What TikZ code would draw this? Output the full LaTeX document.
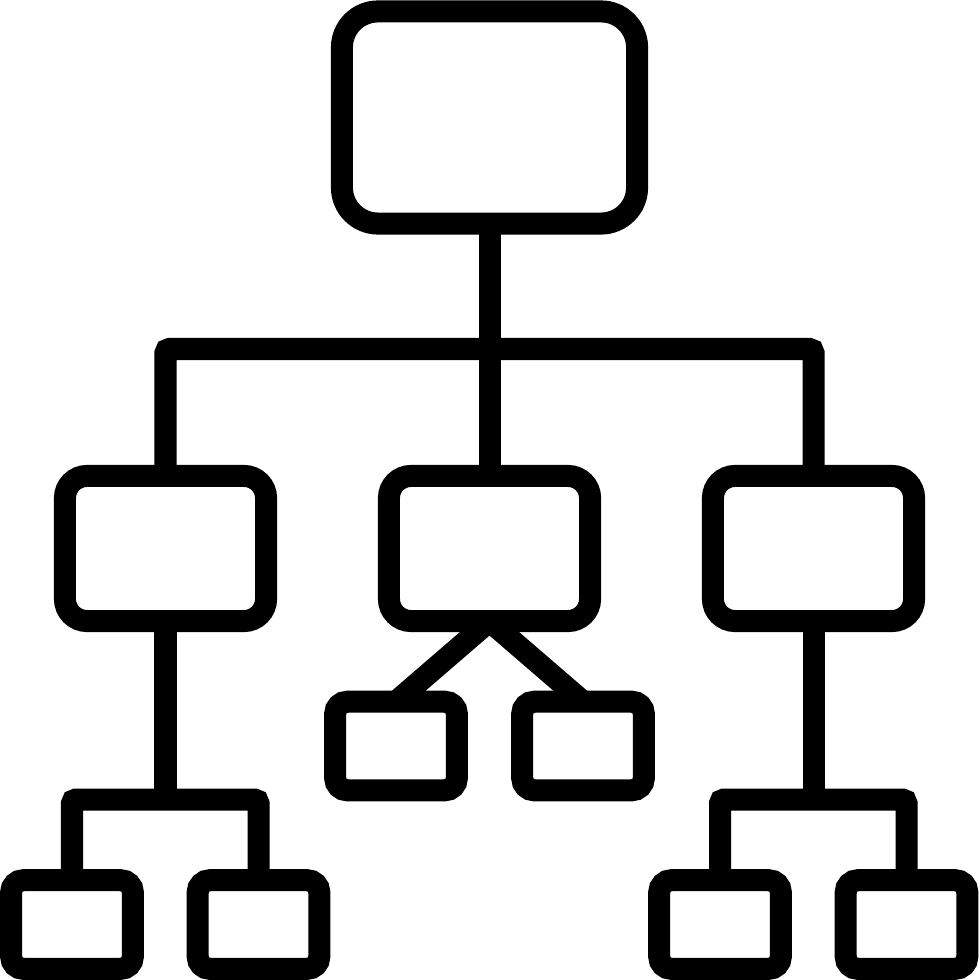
\documentclass[tikz,border=0pt]{standalone}
\usepackage{amsmath}
\usetikzlibrary{positioning}

\begin{document}
\begin{tikzpicture}[x=0.01cm,y=-0.01cm]
   \tikzset{BoxStyle/.style={draw=black, line width=0.22cm, inner sep=0pt, outer sep=0pt}}
   \tikzset{TopBox/.style={BoxStyle, minimum width=2.95cm, minimum height=2.12cm, rounded corners=0.36cm}}
   \tikzset{MidBox/.style={BoxStyle, minimum width=2.01cm, minimum height=1.45cm, rounded corners=0.22cm}}
   \tikzset{LeafBox/.style={BoxStyle, minimum width=1.215cm, minimum height=0.885cm, rounded corners=0.12cm}}
   \tikzset{EdgeStyle/.style={draw=black, line width=0.22cm, rounded corners=0.04cm}}
   \useasboundingbox (0,0) rectangle (979,980);
   % top
   \node[TopBox] (root) at (489.5,117.5) {};
   % second level
   \node[MidBox] (left) at (165.5,548.5) {};
   \node[MidBox] (mid) at (489.5,548.5) {};
   \node[MidBox] (right) at (813.5,548.5) {};
   % leaves
   \node[LeafBox] (midA) at (396,746) {};
   \node[LeafBox] (midB) at (583,746) {};
   \node[LeafBox] (leftA) at (72,924.5) {};
   \node[LeafBox] (leftB) at (258.5,924.5) {};
   \node[LeafBox] (rightA) at (720,924.5) {};
   \node[LeafBox] (rightB) at (906.5,924.5) {};
   % junctions
   \coordinate (j1) at (489.5,349);
   \coordinate (j2) at (165.5,799.5);
   \coordinate (j3) at (813.5,799.5);
   % edges
   \draw[EdgeStyle] (root.south) -- (mid.north);
   \draw[EdgeStyle] (left.north) |- (j1) -| (right.north);
   \draw[EdgeStyle] (left.south) -- (j2);
   \draw[EdgeStyle] (leftA.north) |- (j2) -| (leftB.north);
   \draw[EdgeStyle] (right.south) -- (j3);
   \draw[EdgeStyle] (rightA.north) |- (j3) -| (rightB.north);
   \draw[EdgeStyle] (midA.north) -- (mid.south) -- (midB.north);
\end{tikzpicture}
\end{document}
